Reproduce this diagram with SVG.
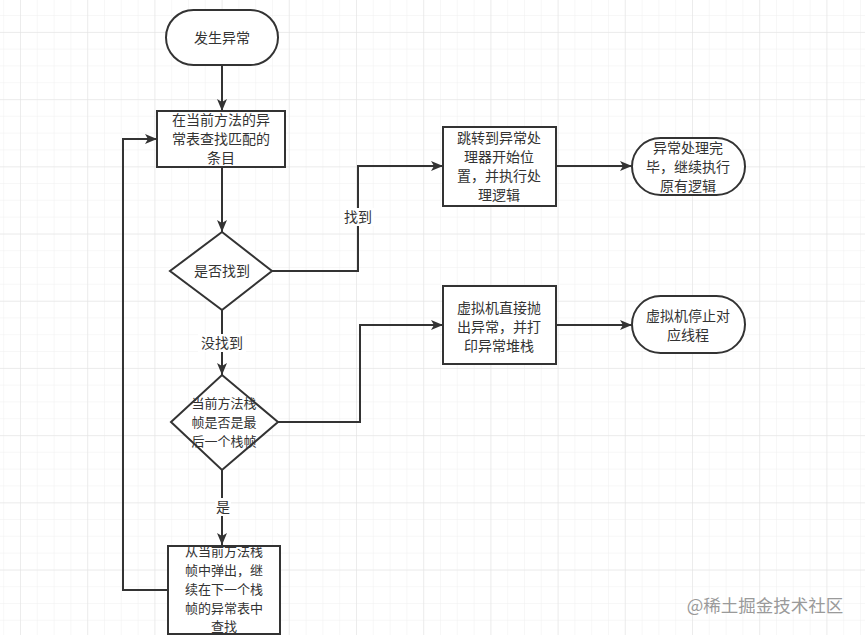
<svg xmlns="http://www.w3.org/2000/svg" width="865" height="635" viewBox="0 0 865 635">
<defs>
<pattern id="minor" width="16.8" height="16.8" x="3.2" y="15" patternUnits="userSpaceOnUse">
<path d="M16.8 0H0V16.8" fill="none" stroke="#efefef" stroke-width="1"/>
</pattern>
<pattern id="major" width="67.2" height="67.2" x="20" y="32" patternUnits="userSpaceOnUse">
<path d="M67.2 0H0V67.2" fill="none" stroke="#e2e2e2" stroke-width="1"/>
</pattern>
<marker id="arr" viewBox="0 0 12 10" refX="12" refY="5" markerWidth="12" markerHeight="10" markerUnits="userSpaceOnUse" orient="auto">
<path d="M0 0L12 5L0 10L3 5Z" fill="#333"/>
</marker>
<style>
.n{fill:#fff;stroke:#333;stroke-width:2}
.t{font-family:"Noto Sans CJK SC","Noto Sans",sans-serif;font-size:14px;fill:#333;text-anchor:middle}
.s{font-size:13px}
.c{fill:none;stroke:#333;stroke-width:2}
.a{marker-end:url(#arr)}
.lb{fill:#fff}
</style>
</defs>
<rect width="865" height="635" fill="#fff"/>
<rect width="865" height="635" fill="url(#minor)"/>
<rect width="865" height="635" fill="url(#major)"/>

<g id="connectors">
<path class="c a" d="M222 65V111"/>
<path class="c a" d="M222 167V232"/>
<path class="c a" d="M272 271H358V166H443"/>
<path class="c a" d="M556 166H632"/>
<path class="c a" d="M222 310V375"/>
<path class="c a" d="M278 422H360V325H443"/>
<path class="c a" d="M556 325H632"/>
<path class="c a" d="M222 470V545"/>
<path class="c a" d="M168 590H123V139H157"/>
<rect class="lb" x="342" y="208" width="32" height="18"/>
<text class="t" x="358" y="222">找到</text>
<rect class="lb" x="198" y="334" width="48" height="18"/>
<text class="t" x="222" y="348">没找到</text>
<rect class="lb" x="215" y="498" width="16" height="18"/>
<text class="t" x="223" y="512">是</text>
</g>

<g id="start">
<rect class="n" x="166" y="10" width="112" height="55" rx="27.5"/>
<text class="t" x="222" y="43">发生异常</text>
</g>
<g id="search">
<rect class="n" x="157" y="111" width="128" height="56"/>
<text class="t" x="221" y="125">在当前方法的异</text>
<text class="t" x="221" y="144">常表查找匹配的</text>
<text class="t" x="221" y="163">条目</text>
</g>
<g id="found">
<path class="n" d="M222 232L272 271L222 310L170 271Z"/>
<text class="t" x="222" y="276">是否找到</text>
</g>
<g id="jump">
<rect class="n" x="443" y="127" width="113" height="79"/>
<text class="t" x="499" y="143">跳转到异常处</text>
<text class="t" x="499" y="162">理器开始位</text>
<text class="t" x="499" y="181">置，并执行处</text>
<text class="t" x="499" y="200">理逻辑</text>
</g>
<g id="done">
<rect class="n" x="632" y="138" width="113" height="57" rx="28.5"/>
<text class="t" x="688" y="153">异常处理完</text>
<text class="t" x="688" y="172">毕，继续执行</text>
<text class="t" x="688" y="191">原有逻辑</text>
</g>
<g id="last">
<path class="n" d="M222 375L278 422L222 470L171 422Z"/>
<text class="t s" x="224" y="408">当前方法栈</text>
<text class="t s" x="224" y="427">帧是否是最</text>
<text class="t s" x="224" y="446">后一个栈帧</text>
</g>
<g id="throw">
<rect class="n" x="443" y="286" width="113" height="78"/>
<text class="t" x="499" y="313">虚拟机直接抛</text>
<text class="t" x="499" y="332">出异常，并打</text>
<text class="t" x="499" y="351">印异常堆栈</text>
</g>
<g id="stop">
<rect class="n" x="632" y="296" width="113" height="57" rx="28.5"/>
<text class="t" x="688" y="321">虚拟机停止对</text>
<text class="t" x="688" y="340">应线程</text>
</g>
<g id="pop">
<rect class="n" x="168" y="546" width="112" height="88"/>
<text class="t s" x="224" y="556">从当前方法栈</text>
<text class="t s" x="224" y="575">帧中弹出，继</text>
<text class="t s" x="224" y="594">续在下一个栈</text>
<text class="t s" x="224" y="613">帧的异常表中</text>
<text class="t s" x="224" y="631">查找</text>
</g>
<text x="765" y="612" font-family="'Noto Sans CJK SC','Noto Sans',sans-serif" font-size="17.5" fill="#9a9a9a" text-anchor="middle">@稀土掘金技术社区</text>
</svg>
